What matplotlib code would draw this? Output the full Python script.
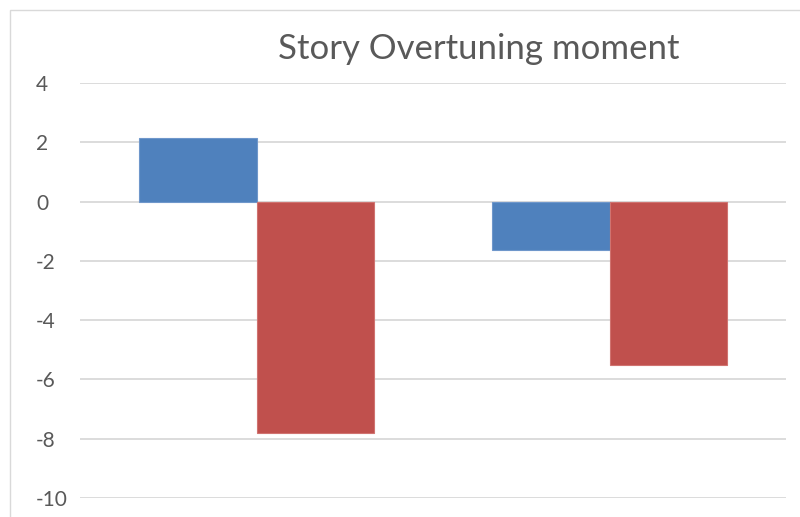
import matplotlib
matplotlib.use("Agg")
import matplotlib.pyplot as plt
from matplotlib.patches import Rectangle
import numpy as np

categories = ["Story 1", "Story 2"]
series_a = [2.13, -1.65]
series_b = [-7.81, -5.52]
yticks = [4, 2, 0, -2, -4, -6, -8, -10]
title = "Story Overtuning moment"

plt.rcParams['font.family'] = ['Lato', 'DejaVu Sans']

W, H = 800, 517
fig = plt.figure(figsize=(W / 100, H / 100), dpi=100)

# chart frame (cropped at right and bottom)
fig.patches.append(Rectangle((10 / W, -0.1), 1.2, (H - 10) / H + 0.1,
                             transform=fig.transFigure, fill=False,
                             edgecolor="#d9d9d9", linewidth=1.0))

ax = fig.add_axes([80 / W, (H - 498) / H, (786 - 80) / W, (498 - 83) / H])

x = np.arange(len(categories))
bw = 1 / 3
ax.bar(x - bw / 2, series_a, width=bw, color="#4f81bd", edgecolor="#6f97cb",
       linewidth=0.8, zorder=3)
ax.bar(x + bw / 2, series_b, width=bw, color="#c0504d", edgecolor="#d07370",
       linewidth=0.8, zorder=3)

ax.set_xlim(-0.5, len(categories) - 0.5)
ax.set_ylim(-10, 4)
ax.set_yticks(yticks)
ax.set_yticklabels([str(v) for v in yticks])
ax.yaxis.grid(True, color="#d9d9d9", linewidth=1.3, zorder=0)
ax.set_xticks([])
for s in ax.spines.values():
    s.set_visible(False)
ax.tick_params(axis="y", length=0, pad=44 * 0.72, labelsize=15,
               labelcolor="#595959")
for lab in ax.get_yticklabels():
    lab.set_horizontalalignment("left")

fig.text(479 / W, 1 - 49 / H, title, ha="center", va="center",
         fontsize=25, color="#595959")

fig.savefig("out.png", dpi=100)
